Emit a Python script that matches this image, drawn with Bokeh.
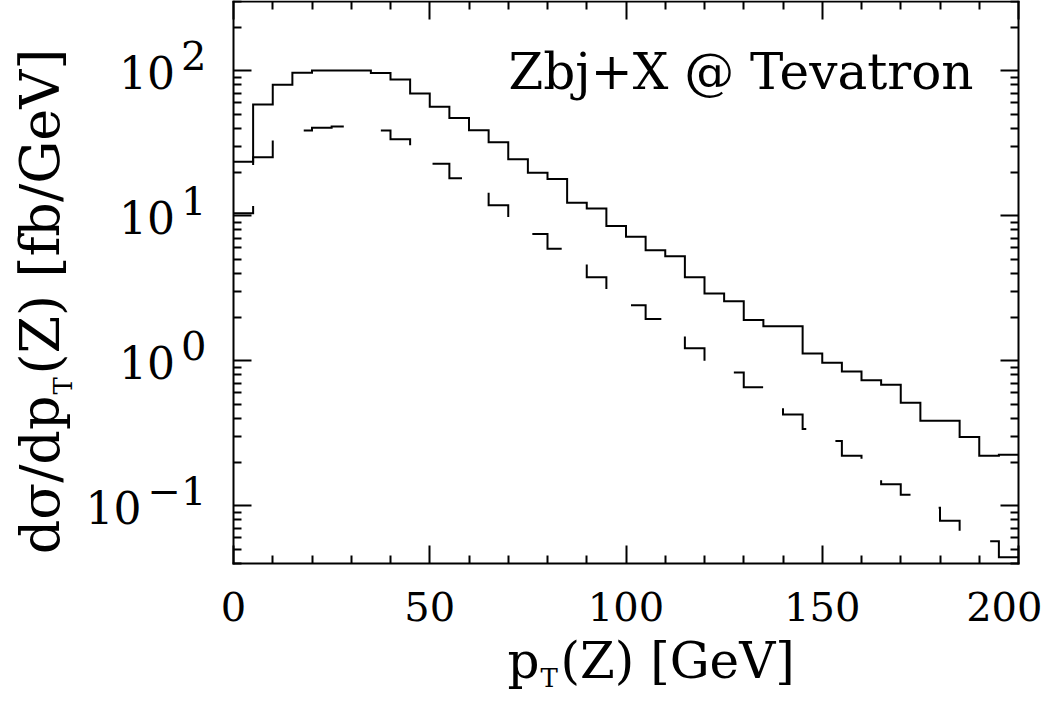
import math
from bokeh.plotting import figure
from bokeh.models import LogAxis, LinearAxis, FixedTicker, Label, Range1d
from bokeh.embed import file_html
from bokeh.resources import INLINE

# ---------------- data ----------------
bin_edges = list(range(0, 205, 5))  # 0..200 GeV, 5 GeV bins

# solid histogram (upper curve)
solid_vals = [23.6, 58.4, 80.0, 96.9, 100.5, 100.5, 100.5, 96.4, 87.1, 69.6,
              56.5, 47.1, 38.9, 32.1, 24.5, 19.8, 17.9, 12.3, 11.2, 8.5,
              7.15, 5.77, 5.25, 3.77, 2.91, 2.57, 1.91, 1.73, 1.73, 1.12,
              0.97, 0.843, 0.735, 0.682, 0.514, 0.386, 0.386, 0.298, 0.221, 0.225]

# dashed histogram (lower curve)
dashed_vals = [10.4, 25.3, 35.0, 38.7, 40.4, 41.2, 40.5, 38.7, 33.7, 27.5,
               22.8, 18.1, 14.6, 11.8, 9.4, 7.48, 5.93, 4.8, 3.77, 3.0,
               2.41, 1.94, 1.55, 1.22, 0.97, 0.83, 0.657, 0.53, 0.426, 0.338,
               0.28, 0.221, 0.18, 0.141, 0.119, 0.097, 0.079, 0.062, 0.057, 0.0442]

x_lim = (0, 200)
y_lim = (0.04, 300)
x_major = [0, 50, 100, 150, 200]
x_minor = [10, 20, 30, 40, 60, 70, 80, 90, 110, 120, 130, 140, 160, 170, 180, 190]
y_major = [0.1, 1, 10, 100]
y_exponents = ["\u22121", "0", "1", "2"]
y_minor = [0.04, 0.05, 0.06, 0.07, 0.08, 0.09,
           0.2, 0.3, 0.4, 0.5, 0.6, 0.7, 0.8, 0.9,
           2, 3, 4, 5, 6, 7, 8, 9,
           20, 30, 40, 50, 60, 70, 80, 90, 200, 300]

annotation = "Zbj+X @ Tevatron"
FONT = "DejaVu Serif"

# ---------------- layout (canvas pixels) ----------------
W, H = 1042, 692
BOX_L, BOX_R, BOX_T, BOX_B = 233, 1018, 1, 563

px_per_x = (BOX_R - BOX_L) / (x_lim[1] - x_lim[0])
px_per_dec = (BOX_B - BOX_T) / (math.log10(y_lim[1]) - math.log10(y_lim[0]))
x_start = x_lim[0] - BOX_L / px_per_x
x_end = x_lim[1] + (W - BOX_R) / px_per_x
y_top = 10 ** (math.log10(y_lim[1]) + BOX_T / px_per_dec)
y_bot = 10 ** (math.log10(y_lim[0]) - (H - BOX_B) / px_per_dec)


def px2x(px):
    return x_lim[0] + (px - BOX_L) / px_per_x


def py2y(py):
    return 10 ** (math.log10(y_lim[1]) - (py - BOX_T) / px_per_dec)


def step_path(edges, vals):
    xs, ys = [], []
    for i, v in enumerate(vals):
        xs += [edges[i], edges[i + 1]]
        ys += [v, v]
    return xs, ys


p = figure(width=W, height=H, y_axis_type="log",
           x_range=Range1d(x_start, x_end), y_range=Range1d(y_bot, y_top),
           output_backend="svg", toolbar_location=None,
           min_border_left=0, min_border_right=0,
           min_border_top=0, min_border_bottom=0)
p.grid.visible = False
p.outline_line_color = None
p.background_fill_color = "white"
p.border_fill_color = "white"


def style_axis(ax, ticks, minor, labels, loc, bounds):
    ax.ticker = FixedTicker(ticks=ticks, minor_ticks=minor)
    ax.fixed_location = loc
    ax.bounds = bounds
    ax.major_tick_in = 18
    ax.major_tick_out = 0
    ax.minor_tick_in = 8
    ax.minor_tick_out = 0
    ax.major_tick_line_width = 2
    ax.minor_tick_line_width = 2
    ax.major_tick_line_color = "black"
    ax.minor_tick_line_color = "black"
    ax.axis_line_width = 2
    ax.axis_line_color = "black"
    ax.axis_line_cap = "square"
    if labels:
        ax.major_label_text_font = FONT
        ax.major_label_text_font_size = "40px"
        ax.major_label_text_color = "black"
        ax.major_label_standoff = 28
    else:
        ax.major_label_text_font_size = "1px"
        ax.major_label_text_color = None
        ax.major_label_standoff = 0


style_axis(p.xaxis[0], x_major, x_minor, True, y_lim[0], x_lim)
style_axis(p.yaxis[0], y_major, y_minor, False, x_lim[0], y_lim)

top_ax = LinearAxis()
style_axis(top_ax, x_major, x_minor, False, y_lim[1], x_lim)
p.add_layout(top_ax, "above")
right_ax = LogAxis()
style_axis(right_ax, y_major, y_minor, False, x_lim[1], y_lim)
p.add_layout(right_ax, "right")

# histograms
sx, sy = step_path(bin_edges, solid_vals)
p.line(sx, sy, line_color="black", line_width=2, line_join="miter")
dx, dy = step_path(bin_edges, dashed_vals)
p.line(dx, dy, line_color="black", line_width=2, line_join="miter",
       line_dash="44 41", line_dash_offset=17)


def add_text(text, px, py, size, align="left", angle=0.0, y=None, y_offset=0):
    p.add_layout(Label(x=px2x(px), y=py2y(py) if y is None else y,
                       x_units="data", y_units="data", text=text,
                       text_font=FONT, text_font_size=f"{size}px",
                       text_align=align, text_baseline="middle",
                       angle=angle, y_offset=y_offset, text_color="black"))


# y tick labels: "10" with raised exponent
EXP_FS = 40
BASE_FS = 44
EXP_RIGHT = 206
for val, e in zip(y_major, y_exponents):
    exp_w = 0.636 * EXP_FS * sum(ch.isdigit() for ch in e) + 0.838 * EXP_FS * e.count("\u2212")
    add_text(e, EXP_RIGHT, None, EXP_FS, align="right", y=val, y_offset=15)
    add_text("10", EXP_RIGHT - exp_w - 6, None, BASE_FS, align="right", y=val, y_offset=-2)

# annotation (top right)
add_text(annotation, 973, 71, 50, align="right")

# x axis title: p_T(Z) [GeV]
XFS = 50
SFS = 26
add_text("p", 539, 660, XFS, align="right")
add_text("T", 540, 677, SFS, align="left")
add_text("(Z) [GeV]", 560, 660, XFS, align="left")

# y axis title: dσ/dp_T(Z) [fb/GeV], rotated
YFS = 54
ang = math.pi / 2
add_text("d\u03c3/dp", 40, 395, YFS, align="right", angle=ang)
add_text("T", 62, 394, SFS, align="left", angle=ang)
add_text("(Z) [fb/GeV]", 40, 374, YFS, align="left", angle=ang)

open("out.html", "w").write(file_html(p, INLINE))
